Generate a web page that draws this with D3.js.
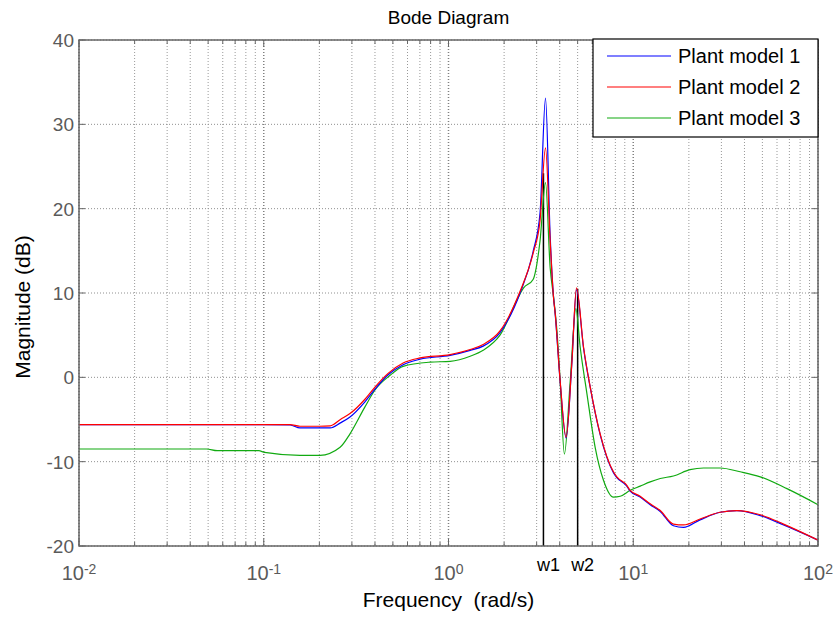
<!DOCTYPE html>
<html>
<head>
<meta charset="utf-8">
<script src="https://cdn.jsdelivr.net/npm/d3@7"></script>
<style>
body { margin: 0; background: #fff; }
text { font-family: "Liberation Sans", Arial, sans-serif; }
</style>
</head>
<body>
<svg id="bode"></svg>
<script>
// data
var freqA = [0.01, 0.05, 0.1, 0.139, 0.157, 0.2, 0.229, 0.26, 0.293, 0.353, 0.4, 0.471, 0.568, 0.702, 1.02, 1.31, 1.54, 1.9, 2.44, 2.87, 3.13, 3.35, 3.55, 3.70, 3.78, 4.02, 4.33, 4.65, 4.93, 5.38, 5.85, 6.62, 7.81, 8.15, 9.23, 9.62, 10.9, 12.35, 14.0, 16.5, 18.7, 23.0, 29.5, 36.4, 48.7, 65.1, 100];
var magModel1 = [-5.6, -5.6, -5.6, -5.65, -6.0, -6.0, -6.0, -5.4, -4.7, -2.9, -1.4, 0.3, 1.5, 2.15, 2.6, 3.2, 3.7, 5.3, 10.0, 14.9, 19.5, 33.1, 16.8, 9.6, 7.5, -0.5, -7.2, 1.6, 10.4, 3.5, -1.2, -6.8, -11.3, -11.9, -12.9, -13.5, -14.2, -15.1, -15.9, -17.6, -17.8, -16.9, -16.0, -15.8, -16.4, -17.5, -19.3];
var magModel2 = [-5.6, -5.6, -5.6, -5.6, -5.8, -5.8, -5.75, -5.0, -4.3, -2.6, -1.15, 0.47, 1.7, 2.3, 2.7, 3.3, 3.9, 5.5, 10.2, 14.7, 18.6, 27.2, 16.2, 9.5, 7.6, -0.4, -7.1, 1.7, 10.6, 3.6, -1.15, -6.7, -11.2, -11.8, -12.8, -13.4, -14.1, -15.0, -15.8, -17.4, -17.5, -16.8, -16.0, -15.8, -16.3, -17.4, -19.3];
var freqB = [0.01, 0.049, 0.056, 0.094, 0.101, 0.157, 0.2017, 0.259, 0.293, 0.353, 0.4, 0.483, 0.568, 0.795, 1.02, 1.31, 1.54, 1.9, 2.44, 2.55, 2.87, 3.13, 3.35, 3.55, 3.70, 3.86, 4.02, 4.24, 4.56, 4.89, 5.16, 5.61, 6.22, 6.90, 7.81, 8.50, 9.62, 10.9, 12.35, 14.0, 16.5, 20.3, 24.0, 29.5, 37.9, 48.7, 67.9, 100];
var magModel3 = [-8.5, -8.5, -8.7, -8.7, -8.9, -9.25, -9.25, -8.3, -6.7, -3.5, -1.5, 0.24, 1.3, 1.8, 1.9, 2.5, 3.2, 5.0, 9.9, 10.6, 11.6, 16.2, 23.1, 13.0, 9.6, 5.6, -0.4, -9.1, -0.4, 8.15, 3.6, -1.9, -8.3, -12.2, -14.2, -14.1, -13.4, -12.9, -12.4, -12.0, -11.7, -10.95, -10.75, -10.75, -11.2, -11.8, -13.2, -15.1];
var seriesNames = ["Plant model 1", "Plant model 2", "Plant model 3"];
var seriesColors = ["#0000ff", "#ff0000", "#11aa11"];
var wLabels = ["w1", "w2"];
var wFreq = [3.265, 5.0];
var wTop = [24.2, 10.5];
var yTicks = [-20, -10, 0, 10, 20, 30, 40];
var xDecades = [0.01, 0.1, 1, 10, 100];
var xExponents = ["-2", "-1", "0", "1", "2"];

//define scales, margin
var margin = {top: 40, right: 15, bottom: 73, left: 79},
    width = 833 - margin.left - margin.right,
    height = 619 - margin.top - margin.bottom;

var xScale = d3.scaleLog().domain([0.01, 100]).range([0, width]);
var yScale = d3.scaleLinear().domain([-20, 40]).range([height, 0]);

var svgtop = d3.select("#bode")
	.attr("width", 833)
	.attr("height", 619);

var svg = svgtop.append("g")
	.attr("transform", "translate(" + margin.left + "," + margin.top + ")");

//minor positions for grid and ticks
var minor = [];
xDecades.slice(0, 4).forEach(function(d) {
	for (var k = 2; k <= 9; k++) minor.push(d * k);
});

//grid
svg.selectAll(".vminor").data(minor).enter().append("line")
	.attr("x1", function(d) {return xScale(d);})
	.attr("x2", function(d) {return xScale(d);})
	.attr("y1", 0).attr("y2", height)
	.attr("stroke", "#999").attr("stroke-width", 1)
	.attr("stroke-dasharray", "1,2");

svg.selectAll(".vmajor").data(xDecades).enter().append("line")
	.attr("x1", function(d) {return xScale(d);})
	.attr("x2", function(d) {return xScale(d);})
	.attr("y1", 0).attr("y2", height)
	.attr("stroke", "#808080").attr("stroke-width", 1.5)
	.attr("stroke-dasharray", "1,2");

svg.selectAll(".hgrid").data(yTicks).enter().append("line")
	.attr("x1", 0).attr("x2", width)
	.attr("y1", function(d) {return yScale(d);})
	.attr("y2", function(d) {return yScale(d);})
	.attr("stroke", "#909090").attr("stroke-width", 1)
	.attr("stroke-dasharray", "1,2");

//inside ticks top and bottom
[0, height].forEach(function(yy) {
	var dir = yy === 0 ? 1 : -1;
	svg.selectAll(null).data(minor).enter().append("line")
		.attr("x1", function(d) {return xScale(d);})
		.attr("x2", function(d) {return xScale(d);})
		.attr("y1", yy).attr("y2", yy + dir * 4)
		.attr("stroke", "#666");
	svg.selectAll(null).data(xDecades).enter().append("line")
		.attr("x1", function(d) {return xScale(d);})
		.attr("x2", function(d) {return xScale(d);})
		.attr("y1", yy).attr("y2", yy + dir * 7)
		.attr("stroke", "#666");
});
[0, width].forEach(function(xx) {
	var dir = xx === 0 ? 1 : -1;
	svg.selectAll(null).data(yTicks).enter().append("line")
		.attr("x1", xx).attr("x2", xx + dir * 6)
		.attr("y1", function(d) {return yScale(d);})
		.attr("y2", function(d) {return yScale(d);})
		.attr("stroke", "#666");
});

//w1, w2 markers
svg.selectAll(".wline").data(wFreq).enter().append("line")
	.attr("x1", function(d) {return xScale(d);})
	.attr("x2", function(d) {return xScale(d);})
	.attr("y1", yScale(-20))
	.attr("y2", function(d, i) {return yScale(wTop[i]);})
	.attr("stroke", "#000").attr("stroke-width", 1.5);

//curves
var line = d3.line()
	.x(function(d) {return xScale(d[0]);})
	.y(function(d) {return yScale(d[1]);})
	.curve(d3.curveMonotoneX);

var series = [
	d3.zip(freqA, magModel1),
	d3.zip(freqA, magModel2),
	d3.zip(freqB, magModel3)
];
[2, 0, 1].forEach(function(i) {
	svg.append("path")
		.datum(series[i])
		.attr("fill", "none")
		.attr("stroke", seriesColors[i])
		.attr("stroke-width", 1.2)
		.attr("d", line);
});

//frame
svg.append("rect")
	.attr("width", width).attr("height", height)
	.attr("fill", "none").attr("stroke", "#666").attr("stroke-width", 1.5);

//y tick labels
svg.selectAll(".ylab").data(yTicks).enter().append("text")
	.attr("x", -5)
	.attr("y", function(d) {return yScale(d);})
	.attr("dy", "0.36em")
	.attr("text-anchor", "end")
	.attr("fill", "#5a5a5a")
	.style("font-size", "19px")
	.text(function(d) {return d;});

//x tick labels 10^n
var xl = svg.selectAll(".xlab").data(xDecades).enter().append("text")
	.attr("x", function(d) {return xScale(d);})
	.attr("y", height + 34)
	.attr("text-anchor", "middle")
	.attr("fill", "#5a5a5a")
	.style("font-size", "20px");
xl.append("tspan").text("10");
xl.append("tspan")
	.attr("dy", "-0.45em")
	.style("font-size", "14px")
	.text(function(d, i) {return xExponents[i];});

//w labels
svg.selectAll(".wlab").data(wFreq).enter().append("text")
	.attr("x", function(d) {return xScale(d) + 5;})
	.attr("y", height + 25)
	.attr("text-anchor", "middle")
	.attr("fill", "#000")
	.style("font-size", "18px")
	.text(function(d, i) {return wLabels[i];});

//axis labels and title
svgtop.append("text")
	.attr("x", margin.left + width / 2)
	.attr("y", 24)
	.attr("text-anchor", "middle")
	.style("font-size", "19px")
	.text("Bode Diagram");

svgtop.append("text")
	.attr("x", margin.left + width / 2)
	.attr("y", 607)
	.attr("text-anchor", "middle")
	.style("font-size", "21px")
	.style("white-space", "pre")
	.text("Frequency  (rad/s)");

svgtop.append("text")
	.attr("transform", "translate(30," + (margin.top + height / 2 + 14) + ") rotate(-90)")
	.attr("text-anchor", "middle")
	.style("font-size", "21px")
	.text("Magnitude (dB)");

//legend
var leg = svg.append("g")
	.attr("transform", "translate(" + (width - 225) + ",-1)");
leg.append("rect")
	.attr("width", 225).attr("height", 98)
	.attr("fill", "#fff").attr("stroke", "#000").attr("stroke-width", 1.2);
var items = leg.selectAll(".item").data(seriesNames).enter().append("g")
	.attr("transform", function(d, i) {return "translate(0," + (17 + i * 31) + ")";});
items.append("line")
	.attr("x1", 14).attr("x2", 78)
	.attr("stroke", function(d, i) {return seriesColors[i];})
	.attr("stroke-width", 1.2);
items.append("text")
	.attr("x", 85)
	.attr("dy", "0.36em")
	.style("font-size", "20px")
	.text(function(d) {return d;});
</script>
</body>
</html>
